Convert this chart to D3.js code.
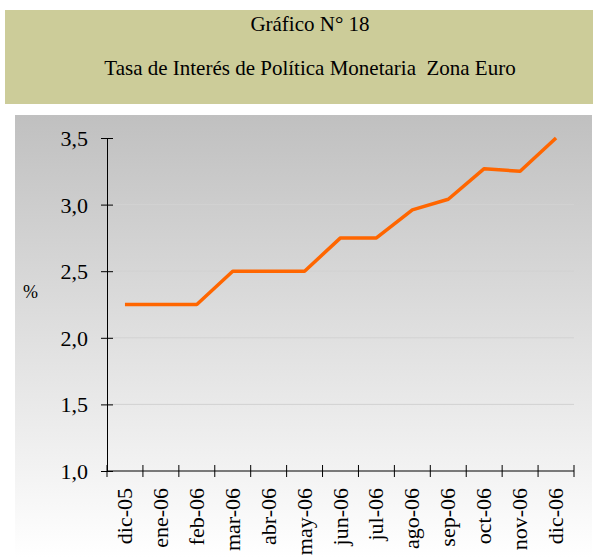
<!DOCTYPE html>
<html>
<head>
<meta charset="utf-8">
<script src="https://cdn.jsdelivr.net/npm/d3@7"></script>
<style>
  body { margin: 0; background: #fff; }
  svg text { font-family: "Liberation Serif", "DejaVu Serif", serif; fill: #000; }
</style>
</head>
<body>
<div id="chart"></div>
<script>
// data
const months = ["dic-05", "ene-06", "feb-06", "mar-06", "abr-06", "may-06", "jun-06",
  "jul-06", "ago-06", "sep-06", "oct-06", "nov-06", "dic-06"];
const rates = [2.25, 2.25, 2.25, 2.5, 2.5, 2.5, 2.75, 2.75, 2.96, 3.04, 3.27, 3.25, 3.5];
const yTicks = [1.0, 1.5, 2.0, 2.5, 3.0, 3.5];

const W = 597, H = 557;
const margin = { top: 138, right: 23, bottom: 86, left: 107 };

const svg = d3.select("#chart").append("svg")
  .attr("width", W)
  .attr("height", H);

// title box
svg.append("rect")
  .attr("x", 5).attr("y", 10)
  .attr("width", 588).attr("height", 94)
  .attr("fill", "#cccc99");

svg.append("text")
  .attr("x", 310).attr("y", 31)
  .attr("text-anchor", "middle")
  .attr("font-size", "21px")
  .text("Gráfico N° 18");

svg.append("text")
  .attr("x", 310).attr("y", 75)
  .attr("text-anchor", "middle")
  .attr("font-size", "21px")
  .attr("xml:space", "preserve")
  .text("Tasa de Interés de Política Monetaria  Zona Euro");

// gradient panel behind the plot
const grad = svg.append("defs").append("linearGradient")
  .attr("id", "bg")
  .attr("x1", "0%").attr("y1", "0%")
  .attr("x2", "0%").attr("y2", "100%");
grad.append("stop").attr("offset", "0%").attr("stop-color", "#c0c0c0");
grad.append("stop").attr("offset", "100%").attr("stop-color", "#ffffff");

svg.append("rect")
  .attr("x", 15).attr("y", 115)
  .attr("width", 577).attr("height", 442)
  .attr("fill", "url(#bg)");

const width = W - margin.left - margin.right;
const height = H - margin.top - margin.bottom;

const g = svg.append("g")
  .attr("transform", "translate(" + margin.left + "," + margin.top + ")");

const x = d3.scaleBand().domain(months).range([0, width]);
const y = d3.scaleLinear().domain([1.0, 3.5]).range([height, 0]);

// gridlines
g.selectAll(".grid")
  .data(yTicks.filter((d) => d > 1.0 && d < 3.5))
  .enter()
  .append("line")
  .attr("x1", 0).attr("x2", width)
  .attr("y1", (d) => y(d)).attr("y2", (d) => y(d))
  .attr("stroke", "#d2d2d2")
  .attr("stroke-width", 1);

// y axis
const fmt = (d) => d3.format(".1f")(d).replace(".", ",");
const yAxis = g.append("g")
  .call(d3.axisLeft(y).tickValues(yTicks).tickFormat(fmt).tickSize(6).tickSizeOuter(0));
yAxis.attr("font-family", null).attr("font-size", null);
yAxis.select(".domain").attr("stroke", "#000");
yAxis.selectAll(".tick line").attr("x2", 6).attr("x1", -6).attr("stroke", "#000");
yAxis.selectAll(".tick text")
  .attr("x", -19)
  .attr("dy", "0.34em")
  .attr("font-size", "22px")
  .attr("fill", "#000");

// x axis: ticks at the band edges
const xAxis = g.append("g").attr("transform", "translate(0," + height + ")");
xAxis.append("line")
  .attr("x1", 0).attr("x2", width)
  .attr("stroke", "#000");
const edges = months.map((m) => x(m)).concat([width]);
xAxis.selectAll(".xt")
  .data(edges)
  .enter()
  .append("line")
  .attr("x1", (d) => d).attr("x2", (d) => d)
  .attr("y1", -6).attr("y2", 6)
  .attr("stroke", "#000");
xAxis.selectAll(".xl")
  .data(months)
  .enter()
  .append("text")
  .attr("transform", (d) => "translate(" + (x(d) + x.bandwidth() / 2 + 7) + ",17) rotate(-90)")
  .attr("text-anchor", "end")
  .attr("font-size", "22px")
  .text((d) => d);

// % label
svg.append("text")
  .attr("x", 23).attr("y", 298)
  .attr("font-size", "18px")
  .text("%");

// the line
const line = d3.line()
  .x((d, i) => x(months[i]) + x.bandwidth() / 2)
  .y((d) => y(d));

g.append("path")
  .datum(rates)
  .attr("fill", "none")
  .attr("stroke", "#ff6600")
  .attr("stroke-width", 3.5)
  .attr("stroke-linejoin", "round")
  .attr("d", line);
</script>
</body>
</html>
